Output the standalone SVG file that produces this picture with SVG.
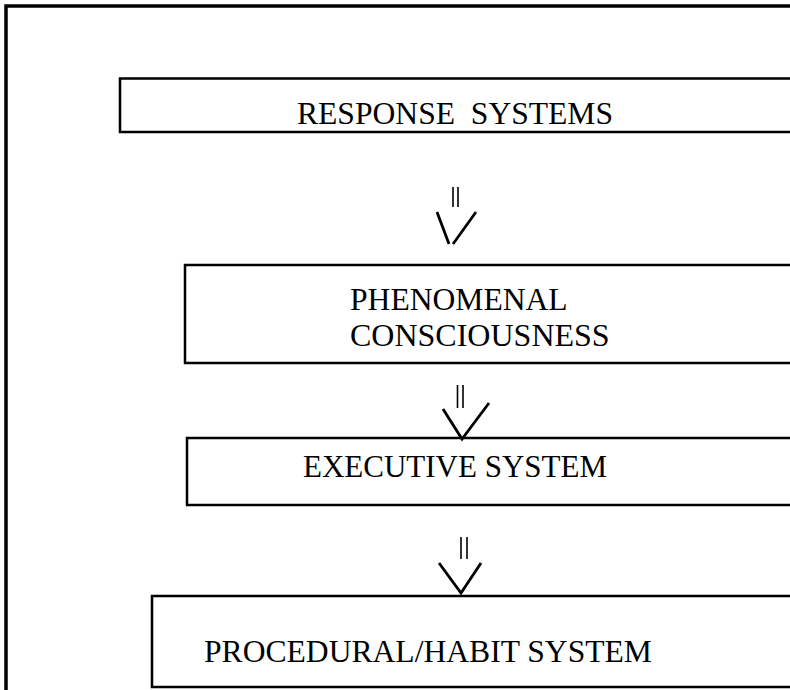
<svg xmlns="http://www.w3.org/2000/svg" width="790" height="690" viewBox="0 0 790 690">
<style>
.frame{fill:none;stroke:#000;stroke-width:3.5}
.box{fill:#fff;stroke:#000;stroke-width:2.5}
.t{font-family:"Liberation Serif","Times New Roman",serif;font-size:31.6px;fill:#000}
.c{fill:none;stroke:#000;stroke-width:2.8;stroke-linecap:butt;stroke-linejoin:miter}
.e{fill:none;stroke:#000;stroke-width:1.6}
</style>
<rect width="790" height="690" fill="#fff"/>
<rect class="frame" x="6" y="6" width="800" height="700"/>
<g id="response">
<rect class="box" x="120" y="78.5" width="700" height="53.5"/>
<text class="t" x="297" y="124" xml:space="preserve">RESPONSE  SYSTEMS</text>
</g>
<g id="phenomenal">
<rect class="box" x="185" y="265" width="700" height="98"/>
<text class="t" x="350" y="310">PHENOMENAL</text>
<text class="t" x="350" y="346" style="font-size:32px">CONSCIOUSNESS</text>
</g>
<g id="executive">
<rect class="box" x="187" y="438" width="700" height="67"/>
<text class="t" x="303" y="477" style="font-size:31px">EXECUTIVE SYSTEM</text>
</g>
<g id="procedural">
<rect class="box" x="152" y="596" width="700" height="91"/>
<text class="t" x="204" y="662">PROCEDURAL/HABIT SYSTEM</text>
</g>
<g id="connectors">
<path class="e" d="M453,187 V207 M458,187 V207"/>
<path class="c" d="M437,212 L449,244 M453,244 L476,212"/>
<path class="e" d="M457.5,385 V408 M463,385 V408"/>
<path class="c" d="M443,409 L462,439 L489,403"/>
<path class="e" d="M461,537 V559 M467,537 V559"/>
<path class="c" d="M439,563 L461,593 L481,563"/>
</g>
</svg>
